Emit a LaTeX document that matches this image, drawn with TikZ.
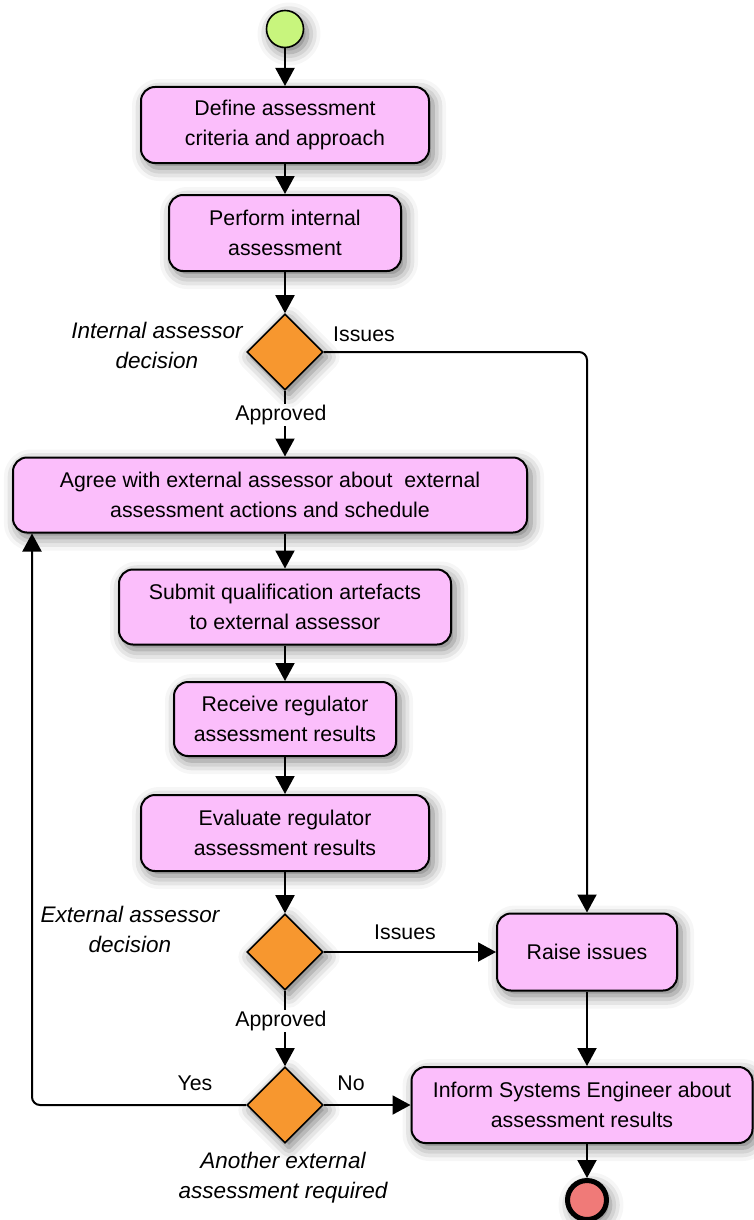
\documentclass[tikz,border=0pt]{standalone}
\usepackage{fontspec}
\setmainfont{Liberation Sans}
\usetikzlibrary{shapes.geometric,arrows.meta,shadows.blur}
\definecolor{actfill}{RGB}{251,190,251}
\definecolor{decfill}{RGB}{247,151,47}
\definecolor{startfill}{RGB}{200,245,125}
\definecolor{endfill}{RGB}{240,122,120}
\tikzset{
  txt/.style={font=\fontsize{21.3}{30}\selectfont},
  drop/.style={blur shadow={shadow xshift=4pt, shadow yshift=-5pt, shadow blur radius=13pt, shadow opacity=55}},
  activity/.style={txt, draw, line width=2pt, fill=actfill, rounded corners=14pt, align=center, inner sep=0pt, drop},
  decision/.style={diamond, draw, line width=1.6pt, fill=decfill, minimum width=76pt, minimum height=76pt, inner sep=0pt, drop},
  startnode/.style={circle, draw, line width=1.6pt, fill=startfill, minimum size=37pt, inner sep=0pt, drop},
  endnode/.style={circle, draw, line width=5pt, fill=endfill, minimum size=39pt, inner sep=0pt, drop},
  flow/.style={line width=2pt, -{Triangle[length=18pt,width=19pt]}},
  link/.style={line width=2pt},
  lbl/.style={txt, inner sep=1pt},
  note/.style={font=\fontsize{22.5}{30}\selectfont\itshape, align=center}
}
\begin{document}
\begin{tikzpicture}[x=1pt,y=-1pt]
\useasboundingbox (0,0) rectangle (753,1220);

% activities and decisions
\node[startnode] (s) at (285,29) {};
\node[activity, minimum width=288pt, minimum height=76pt] (b1) at (285,125) {Define assessment\\criteria and approach};
\node[activity, minimum width=232pt, minimum height=76pt] (b2) at (285,233) {Perform internal\\assessment};
\node[decision] (d1) at (285,352) {};
\node[activity, minimum width=514pt, minimum height=75pt] (b3) at (270,495) {Agree with external assessor about\ \ external\\assessment actions and schedule};
\node[activity, minimum width=332pt, minimum height=75pt] (b4) at (285,607) {Submit qualification artefacts\\to external assessor};
\node[activity, minimum width=222pt, minimum height=74pt] (b5) at (285,719) {Receive regulator\\assessment results};
\node[activity, minimum width=288pt, minimum height=76pt] (b6) at (285,833) {Evaluate regulator\\assessment results};
\node[decision] (d2) at (285,952) {};
\node[activity, minimum width=180pt, minimum height=77pt] (r) at (587,952) {Raise issues};
\node[decision] (d3) at (285,1105) {};
\node[activity, minimum width=341pt, minimum height=76pt] (inf) at (582,1105) {Inform Systems Engineer about\\assessment results};
\node[endnode] (e) at (587,1200) {};

% decision notes
\node[note] (n1) at (157,345) {Internal assessor\\decision};
\node[note] (n2) at (130,929) {External assessor\\decision};
\node[note] (n3) at (283,1178) {Another external\\assessment required};

% guard labels
\node[lbl] (a1) at (281,415) {Approved};
\node[lbl] (a2) at (281,1021) {Approved};
\node[lbl] (i1) at (364,334) {Issues};
\node[lbl] (i2) at (405,932) {Issues};
\node[lbl] (y) at (195,1083) {Yes};
\node[lbl] (no) at (351,1083) {No};

% connectors
\draw[flow] (s) -- (b1);
\draw[flow] (b1) -- (b2);
\draw[flow] (b2) -- (d1);
\draw[link] (d1.south) -- (d1.south |- a1.north);
\draw[flow] (d1.south |- a1.south) -- (d1.south |- b3.north);
\draw[flow, rounded corners=8pt] (d1.east) -| (r.north);
\draw[flow] (b3.south -| b4) -- (b4.north);
\draw[flow] (b4) -- (b5);
\draw[flow] (b5) -- (b6);
\draw[flow] (b6) -- (d2);
\draw[flow] (d2.east) -- (r.west);
\draw[link] (d2.south) -- (d2.south |- a2.north);
\draw[flow] (d2.south |- a2.south) -- (d3.north);
\draw[flow, rounded corners=8pt] (d3.west) -| ([xshift=20pt]b3.south west);
\draw[flow] (d3.east) -- (inf.west);
\draw[flow] (r.south) -- (r.south |- inf.north);
\draw[flow] (inf.south -| e) -- (e.north);
\end{tikzpicture}
\end{document}
